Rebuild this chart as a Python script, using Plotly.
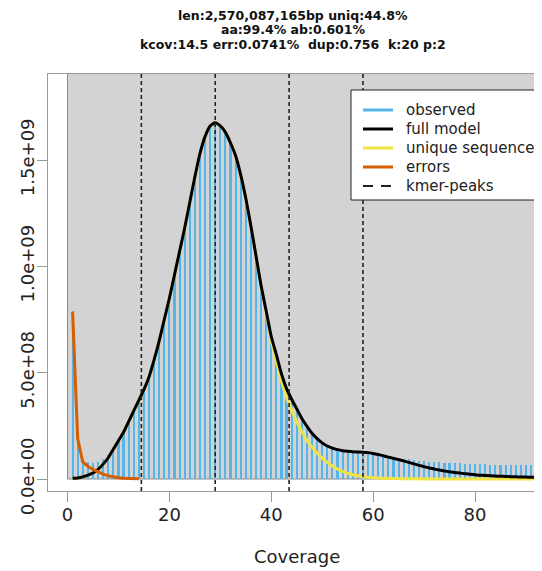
import plotly.graph_objects as go
import numpy as np

# ---------------- data (k-mer counts in units of 1e9) ----------------
coverage = list(range(1, 95))

observed_bn = [
    0.790, 0.200, 0.088, 0.078, 0.073, 0.078, 0.093, 0.115, 0.150, 0.186,
    0.224, 0.273, 0.322, 0.371, 0.420, 0.480, 0.560, 0.650, 0.750, 0.850,
    0.960, 1.070, 1.180, 1.300, 1.420, 1.530, 1.610, 1.660, 1.675, 1.660,
    1.630, 1.580, 1.520, 1.430, 1.320, 1.190, 1.050, 0.910, 0.790, 0.670,
    0.585, 0.495, 0.425, 0.375, 0.330, 0.285, 0.248, 0.215, 0.190, 0.170,
    0.155, 0.145, 0.138, 0.133, 0.130, 0.128, 0.127, 0.126, 0.124, 0.122,
    0.118, 0.113, 0.108, 0.104, 0.100, 0.096, 0.093, 0.090, 0.087, 0.084,
    0.082, 0.080, 0.078, 0.077, 0.075, 0.074, 0.073, 0.072, 0.071, 0.070,
    0.069, 0.069, 0.068, 0.068, 0.067, 0.067, 0.066, 0.066, 0.065, 0.065,
    0.064, 0.064, 0.063, 0.063,
]

full_model_bn = [
    0.003, 0.005, 0.010, 0.018, 0.028, 0.045, 0.070, 0.100, 0.140, 0.180,
    0.220, 0.270, 0.320, 0.370, 0.420, 0.480, 0.560, 0.650, 0.750, 0.850,
    0.960, 1.070, 1.180, 1.300, 1.420, 1.530, 1.610, 1.660, 1.675, 1.660,
    1.630, 1.580, 1.520, 1.430, 1.320, 1.190, 1.050, 0.910, 0.790, 0.670,
    0.585, 0.495, 0.425, 0.375, 0.330, 0.285, 0.248, 0.215, 0.190, 0.170,
    0.155, 0.145, 0.138, 0.133, 0.130, 0.128, 0.127, 0.126, 0.124, 0.120,
    0.115, 0.109, 0.103, 0.097, 0.091, 0.085, 0.078, 0.071, 0.064, 0.058,
    0.052, 0.047, 0.042, 0.038, 0.034, 0.031, 0.028, 0.025, 0.022, 0.020,
    0.018, 0.017, 0.015, 0.014, 0.013, 0.012, 0.011, 0.010, 0.0095, 0.009,
    0.0085, 0.008, 0.0075, 0.007,
]

unique_seq_bn = [
    0.003, 0.005, 0.010, 0.018, 0.028, 0.045, 0.070, 0.100, 0.140, 0.180,
    0.220, 0.270, 0.320, 0.370, 0.420, 0.480, 0.560, 0.650, 0.750, 0.850,
    0.960, 1.070, 1.180, 1.300, 1.420, 1.530, 1.610, 1.660, 1.675, 1.660,
    1.630, 1.580, 1.520, 1.430, 1.320, 1.190, 1.048, 0.905, 0.780, 0.650,
    0.555, 0.460, 0.385, 0.325, 0.270, 0.222, 0.182, 0.150, 0.122, 0.098,
    0.078, 0.061, 0.047, 0.036, 0.027, 0.020, 0.015, 0.011, 0.008, 0.006,
    0.0045, 0.0035, 0.0027, 0.0020, 0.0015, 0.0012, 0.0010, 0.0008, 0.0006, 0.0005,
    0.0004, 0.0003, 0.0003, 0.0002, 0.0002, 0.0002, 0.0001, 0.0001, 0.0001, 0.0001,
    0.0001, 0.0001, 0.0001, 0.0001, 0.0001, 0.0001, 0.0001, 0.0001, 0.0001, 0.0001,
    0.0001, 0.0001, 0.0001, 0.0001,
]

error_cov = list(range(1, 15))
errors_bn = [0.787, 0.190, 0.080, 0.060, 0.045, 0.033, 0.023, 0.015,
             0.010, 0.006, 0.004, 0.003, 0.002, 0.001]

kmer_peaks = [14.5, 29.0, 43.5, 58.0]

x_ticks = [0, 20, 40, 60, 80]
y_ticks = [0, 5e8, 1e9, 1.5e9]
y_tick_labels = ["0.0e+00", "5.0e+08", "1.0e+09", "1.5e+09"]
x_title = "Coverage"

title_lines = [
    "len:2,570,087,165bp uniq:44.8%",
    "aa:99.4% ab:0.601%",
    "kcov:14.5 err:0.0741%\u00a0 dup:0.756\u00a0 k:20 p:2",
]
legend_names = ["observed", "full model", "unique sequence", "errors", "kmer-peaks"]

SCALE = 1e9
observed = np.array(observed_bn) * SCALE
full_model = np.array(full_model_bn) * SCALE
unique_seq = np.array(unique_seq_bn) * SCALE
errors = np.array(errors_bn) * SCALE

# ---------------- styling ----------------
C_HIST = "#56B4E9"
C_FULL = "black"
C_UNIQUE = "#F0E442"
C_ERR = "#D55E00"
C_BG = "#D3D3D3"
C_PEAK = "#222222"
FONT = "DejaVu Sans"

# the page body has an 8px margin; work in page pixels and shift
OFF = 8
W, H = 542 - OFF, 571 - OFF
FRAME_L, FRAME_T, FRAME_B, FRAME_R = 48, 74, 491, 542
ML = FRAME_L - OFF
MT = FRAME_T - OFF
MR = 0
MB = H - (FRAME_B - OFF)
plot_w = W - ML - MR
plot_h = H - MT - MB

# scales: x=0 at page x 67.5, 5.094 px/unit; y=0 at page y 479, 212.67 px per 1e9
px_per_x = 5.094
x0 = -(67.5 - FRAME_L) / px_per_x
x1 = x0 + plot_w / px_per_x
px_per_y = 212.67 / 1e9
y_top = (479 - FRAME_T) / px_per_y
y_bot = -(FRAME_B - 479) / px_per_y


def px_to_paper_x(px):
    return (px - FRAME_L) / plot_w


def px_to_paper_y(py):
    return (FRAME_B - py) / plot_h


fig = go.Figure()

fig.add_trace(go.Bar(x=coverage, y=observed, width=0.42,
                     marker=dict(color=C_HIST, line=dict(width=0)),
                     showlegend=False, hoverinfo="skip"))
fig.add_trace(go.Scatter(x=coverage, y=unique_seq, mode="lines", showlegend=False,
                         name=legend_names[2],
                         line=dict(color=C_UNIQUE, width=3, shape="spline", smoothing=0.6)))
fig.add_trace(go.Scatter(x=coverage, y=full_model, mode="lines", showlegend=False,
                         name=legend_names[1],
                         line=dict(color=C_FULL, width=3, shape="spline", smoothing=0.6)))
fig.add_trace(go.Scatter(x=error_cov, y=errors, mode="lines", showlegend=False,
                         name=legend_names[3],
                         line=dict(color=C_ERR, width=3)))

# gray background rectangle starting at (0,0)
fig.add_shape(type="rect", xref="x", yref="y", x0=0, y0=0,
              x1=max(coverage) * 1.5, y1=max(observed) * 2,
              fillcolor=C_BG, line=dict(color="#8a8a8a", width=1), layer="below")

for p in kmer_peaks:
    fig.add_shape(type="line", xref="x", yref="paper", x0=p, x1=p, y0=0, y1=1,
                  line=dict(color=C_PEAK, width=1.6, dash="4px,3px"))

# ---------------- legend (box, samples, labels) ----------------
leg_left, leg_top, leg_bot = 351, 90, 200
fig.add_shape(type="rect", xref="paper", yref="paper",
              x0=px_to_paper_x(leg_left), x1=px_to_paper_x(FRAME_R + 30),
              y0=px_to_paper_y(leg_bot), y1=px_to_paper_y(leg_top),
              fillcolor="white", line=dict(color="#222", width=1), layer="above")
leg_colors = [C_HIST, C_FULL, C_UNIQUE, C_ERR, C_PEAK]
leg_dash = ["solid", "solid", "solid", "solid", "10px,8px"]
leg_width = [3, 3, 3, 3, 2]
for i, name in enumerate(legend_names):
    ry = 110 + 19 * i
    fig.add_shape(type="line", xref="paper", yref="paper",
                  x0=px_to_paper_x(363), x1=px_to_paper_x(393),
                  y0=px_to_paper_y(ry), y1=px_to_paper_y(ry),
                  line=dict(color=leg_colors[i], width=leg_width[i], dash=leg_dash[i]),
                  layer="above")
    fig.add_annotation(text=name, xref="paper", yref="paper",
                       x=px_to_paper_x(404), y=px_to_paper_y(ry),
                       xanchor="left", yanchor="middle", showarrow=False,
                       font=dict(family=FONT, size=15, color="#222"))

# ---------------- title ----------------
for i, line in enumerate(title_lines):
    ypx = [15, 29.5, 44][i]
    fig.add_annotation(text=line, xref="paper", yref="paper",
                       x=px_to_paper_x(293), y=px_to_paper_y(ypx),
                       xanchor="center", yanchor="middle", showarrow=False,
                       font=dict(family=FONT, size=12.5, color="#111", weight="bold"))

# x-axis title
fig.add_annotation(text=x_title, xref="paper", yref="paper",
                   x=px_to_paper_x(297), y=px_to_paper_y(556),
                   xanchor="center", yanchor="middle", showarrow=False,
                   font=dict(family=FONT, size=18, color="#222"))

fig.update_layout(
    width=W, height=H,
    margin=dict(l=ML, r=MR, t=MT, b=MB, pad=0, autoexpand=False),
    paper_bgcolor="white", plot_bgcolor="white",
    bargap=0,
    font=dict(family=FONT, color="#222"),
    showlegend=False,
    xaxis=dict(range=[x0, x1], tickvals=x_ticks, ticktext=[str(v) for v in x_ticks],
               automargin=False,
               showgrid=False, zeroline=False, showline=True, linecolor="#999",
               linewidth=1.2, mirror=True, ticks="outside", ticklen=10,
               tickcolor="#999", tickwidth=1, ticklabelstandoff=-3,
               tickfont=dict(family=FONT, size=18, color="#222")),
    yaxis=dict(range=[y_bot, y_top], tickvals=y_ticks, ticktext=y_tick_labels,
               automargin=False,
               tickangle=-90, showgrid=False, zeroline=False, showline=True,
               linecolor="#999", linewidth=1.2, mirror=False, ticks="outside",
               ticklen=10, tickcolor="#999", tickwidth=1, ticklabelstandoff=-4,
               tickfont=dict(family=FONT, size=18, color="#222")),
)

fig.write_html("out.html")
